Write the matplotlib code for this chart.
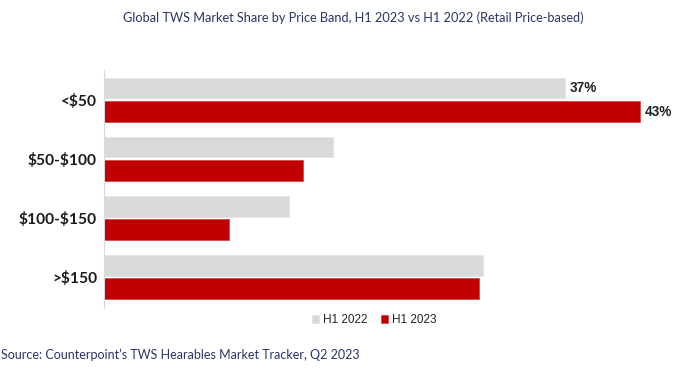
import numpy as np
import matplotlib.pyplot as plt

# Market share by price band (%)
bands = ['<\\$50', '\\$50-\\$100', '\\$100-\\$150', '>\\$150']
h1_2022 = [37, 18.4, 14.8, 30.4]
h1_2023 = [43, 16.0, 10.0, 30.1]
labelled = [0]  # only the first band shows value labels

grey = '#D9D9D9'
red = '#C00000'
navy = '#2B3566'

fig = plt.figure(figsize=(6.93, 3.68), dpi=100)
ax = fig.add_axes([0.150, 0.163, 0.817, 0.647])

y = np.arange(len(bands))
h = 0.35
b1 = ax.barh(y - 0.2, h1_2022, height=h, color=grey, edgecolor='#E4E4E4', linewidth=0.6, label='H1 2022')
b2 = ax.barh(y + 0.2, h1_2023, height=h, color=red, edgecolor='#D44A4A', linewidth=0.6, label='H1 2023')

for i in labelled:
    ax.text(h1_2022[i] + 0.35, y[i] - 0.2, f'{h1_2022[i]:.0f}%', va='center', ha='left',
            fontsize=9.8, fontweight='bold', family='Liberation Sans', color='#222222')
    ax.text(h1_2023[i] + 0.35, y[i] + 0.2, f'{h1_2023[i]:.0f}%', va='center', ha='left',
            fontsize=9.8, fontweight='bold', family='Liberation Sans', color='#222222')

ax.set_xlim(0, 45.4)
ax.set_ylim(3.525, -0.508)
ax.set_yticks(y)
ax.set_yticklabels(bands, fontsize=11.2, fontweight='bold', family='Lato', color='#1a1a1a')
ax.tick_params(axis='y', length=0, pad=5)
ax.set_xticks([])
for s in ['top', 'right', 'bottom']:
    ax.spines[s].set_visible(False)
ax.spines['left'].set_color('#D9D9D9')
ax.spines['left'].set_linewidth(0.8)

fig.legend(handles=[b1, b2], loc='center', bbox_to_anchor=(0.54, 0.13), ncol=2, frameon=False,
           prop={'family': 'Liberation Sans', 'size': 8.5}, handlelength=0.6, handleheight=0.6,
           handletextpad=0.3, columnspacing=1.2, labelcolor='#222222')

fig.text(0.51, 0.953, 'Global TWS Market Share by Price Band, H1 2023 vs H1 2022 (Retail Price-based)',
         ha='center', va='center', fontsize=9.2, family='Lato', color=navy)
fig.text(0.002, 0.035, "Source: Counterpoint’s TWS Hearables Market Tracker, Q2 2023",
         ha='left', va='center', fontsize=9, family='Lato', color=navy)

fig.savefig('out.png', dpi=100)
